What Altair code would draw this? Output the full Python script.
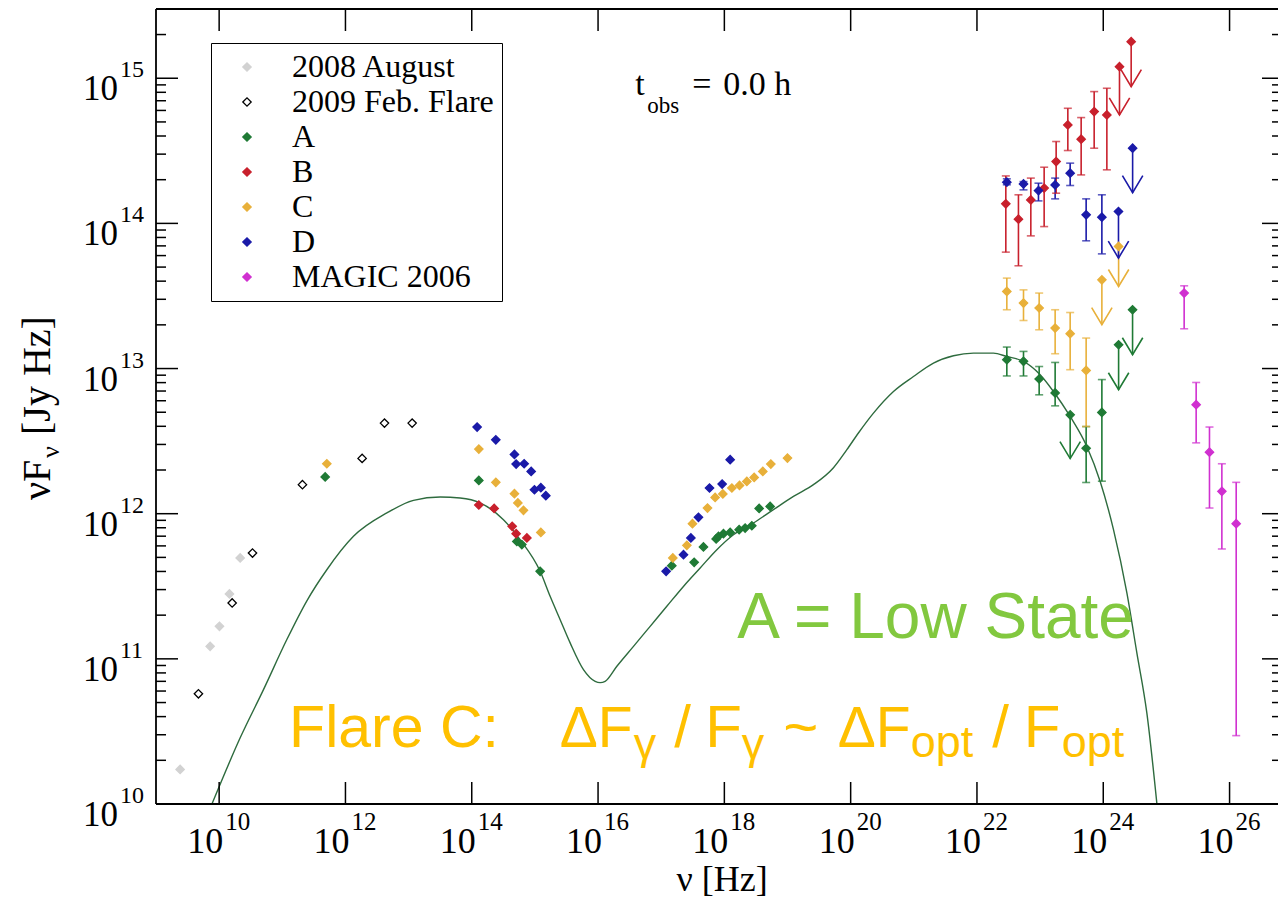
import altair as alt
import numpy as np
import pandas as pd

W, H = 1122, 795

# ---------------- data (log10 values) ----------------
SERIES = ["2008 August", "2009 Feb. Flare", "A", "B", "C", "D", "MAGIC 2006"]
STROKES = ["#d2d2d2", "#000000", "#1f7a35", "#c8202c", "#e8b03a", "#1a1aa8", "#d030d0"]
FILLS = ["#d2d2d2", "#ffffff", "#1f7a35", "#c8202c", "#e8b03a", "#1a1aa8", "#d030d0"]

MODEL_LOGNU = [9.889, 10.333, 10.702, 11.072, 11.389, 11.705, 12.127, 12.656, 13.077, 13.500,
               13.816, 14.133, 14.502, 14.766, 15.083, 15.241, 15.400, 15.558, 15.769, 15.954,
               16.033, 16.112, 16.298, 16.561, 16.825, 17.089, 17.352, 17.617, 17.881, 18.144,
               18.461, 18.777, 19.094, 19.411, 19.728, 19.940, 20.123, 20.361, 20.678, 20.994,
               21.311, 21.628, 21.944, 22.261, 22.473, 22.737, 23.001, 23.211, 23.476, 23.740,
               23.951, 24.162, 24.374, 24.532, 24.690, 24.849]
MODEL_LOGF = [10.003, 10.456, 10.788, 11.133, 11.400, 11.614, 11.844, 12.005, 12.092, 12.115,
              12.108, 12.074, 11.959, 11.821, 11.603, 11.431, 11.270, 11.110, 10.926, 10.845,
              10.836, 10.845, 10.949, 11.086, 11.224, 11.362, 11.499, 11.626, 11.752, 11.855,
              11.936, 12.028, 12.119, 12.200, 12.317, 12.441, 12.556, 12.693, 12.842, 12.945,
              13.038, 13.088, 13.106, 13.106, 13.083, 13.049, 12.957, 12.842, 12.670, 12.463,
              12.222, 11.890, 11.454, 11.041, 10.628, 10.003]

AUG08_LOGNU = [9.382, 9.857, 10.005, 10.163, 10.333]
AUG08_LOGF = [10.238, 11.086, 11.224, 11.447, 11.695]

FEB09_LOGNU = [9.672, 10.206, 10.528, 11.319, 12.264, 12.618, 13.056]
FEB09_LOGF = [10.759, 11.385, 11.729, 12.200, 12.381, 12.624, 12.624]

A_LOGNU = [11.679, 14.112, 14.714, 14.793, 15.083, 17.168, 17.522, 17.669, 17.870, 17.907,
           17.986, 18.092, 18.234, 18.329, 18.435, 18.551, 18.725]
A_LOGF = [12.253, 12.229, 11.809, 11.787, 11.603, 11.642, 11.665, 11.771, 11.826, 11.844,
          11.862, 11.871, 11.890, 11.901, 11.917, 12.036, 12.050]
A_G_LOGNU = [22.473, 22.737, 22.985, 23.238, 23.729, 23.978]
A_G_LOGF = [13.061, 13.050, 12.928, 12.832, 12.451, 12.698]
A_G_HI = [13.148, 13.118, 13.014, 13.042, 12.600, 12.924]
A_G_LO = [12.949, 12.949, 12.819, 12.743, 12.215, 12.224]
A_UL_LOGNU = [23.476, 24.243, 24.464]
A_UL_LOGF = [12.681, 13.164, 13.405]
A_UL_TIP = [12.380, 12.854, 13.095]

B_LOGNU = [14.112, 14.355, 14.640, 14.703, 14.873]
B_LOGF = [12.060, 12.036, 11.913, 11.862, 11.833]
B_G_LOGNU = [22.457, 22.657, 22.853, 23.064, 23.254, 23.439, 23.650, 23.856, 24.057]
B_G_LOGF = [14.135, 14.029, 14.162, 14.243, 14.426, 14.678, 14.580, 14.770, 14.747]
B_G_HI = [14.327, 14.197, 14.312, 14.387, 14.564, 14.793, 14.729, 14.908, 14.931]
B_G_LO = [13.802, 13.708, 13.914, 13.978, 14.208, 14.502, 14.334, 14.518, 14.369]
B_UL_LOGNU = [24.257, 24.442]
B_UL_LOGF = [15.080, 15.252]
B_UL_TIP = [14.747, 14.942]

C_LOGNU = [11.705, 14.112, 14.381, 14.676, 14.730, 14.819, 15.094, 17.184, 17.406, 17.495,
           17.733, 17.854, 17.976, 18.119, 18.240, 18.356, 18.472, 18.609, 18.736, 18.999]
C_LOGF = [12.344, 12.445, 12.216, 12.138, 12.074, 12.023, 11.871, 11.695, 11.782, 11.931,
          12.039, 12.112, 12.136, 12.177, 12.195, 12.222, 12.250, 12.291, 12.342, 12.383]
C_G_LOGNU = [22.473, 22.737, 22.985, 23.238, 23.476, 23.729]
C_G_LOGF = [13.531, 13.451, 13.417, 13.279, 13.240, 12.987]
C_G_HI = [13.623, 13.542, 13.520, 13.405, 13.386, 13.210]
C_G_LO = [13.405, 13.331, 13.267, 13.102, 12.992, 12.601]
C_UL_LOGNU = [23.978, 24.243]
C_UL_LOGF = [13.611, 13.841]
C_UL_TIP = [13.302, 13.565]

D_LOGNU = [14.085, 14.381, 14.676, 14.703, 14.830, 14.941, 14.993, 15.094, 15.173, 17.078,
           17.353, 17.470, 17.590, 17.765, 17.965, 18.092]
D_LOGF = [12.597, 12.509, 12.408, 12.342, 12.344, 12.291, 12.165, 12.179, 12.124, 11.603,
          11.718, 11.833, 11.975, 12.177, 12.204, 12.372]
D_G_LOGNU = [22.473, 22.737, 22.974, 23.238, 23.476, 23.729, 23.978]
D_G_LOGF = [14.284, 14.272, 14.226, 14.265, 14.346, 14.059, 14.043]
D_G_HI = [14.307, 14.288, 14.277, 14.312, 14.415, 14.169, 14.197]
D_G_LO = [14.266, 14.231, 14.155, 14.169, 14.261, 13.880, 13.790]
D_UL_LOGNU = [24.241, 24.465]
D_UL_LOGF = [14.082, 14.518]
D_UL_TIP = [13.761, 14.212]

M_LOGNU = [25.281, 25.471, 25.682, 25.878, 26.105]
M_LOGF = [13.520, 12.751, 12.424, 12.154, 11.931]
M_HI = [13.570, 12.904, 12.597, 12.344, 12.216]
M_LO = [13.274, 12.488, 12.039, 11.757, 10.471]

X_MAJOR_EXP = [10, 12, 14, 16, 18, 20, 22, 24, 26]
Y_MAJOR_EXP = [10, 11, 12, 13, 14, 15]

# ---------------- tables ----------------
COL = dict(zip(SERIES, STROKES))
X_DOMAIN = [1e9, 10 ** 26.767]
Y_DOMAIN = [1e10, 10 ** 15.477]


def pts(name, lognu, logf):
    return pd.DataFrame({"series": name, "nu": 10 ** np.array(lognu, float),
                         "F": 10 ** np.array(logf, float)})


def errs(name, lognu, hi, lo):
    return pd.DataFrame({"col": COL[name], "nu": 10 ** np.array(lognu, float),
                         "hi": 10 ** np.array(hi, float), "lo": 10 ** np.array(lo, float)})


def uls(name, lognu, logf, tip):
    return pd.DataFrame({"col": COL[name], "nu": 10 ** np.array(lognu, float),
                         "F": 10 ** np.array(logf, float), "tip": 10 ** np.array(tip, float)})


points = pd.concat([
    pts("2008 August", AUG08_LOGNU, AUG08_LOGF),
    pts("2009 Feb. Flare", FEB09_LOGNU, FEB09_LOGF),
    pts("A", A_LOGNU, A_LOGF), pts("A", A_G_LOGNU, A_G_LOGF), pts("A", A_UL_LOGNU, A_UL_LOGF),
    pts("B", B_LOGNU, B_LOGF), pts("B", B_G_LOGNU, B_G_LOGF), pts("B", B_UL_LOGNU, B_UL_LOGF),
    pts("C", C_LOGNU, C_LOGF), pts("C", C_G_LOGNU, C_G_LOGF), pts("C", C_UL_LOGNU, C_UL_LOGF),
    pts("D", D_LOGNU, D_LOGF), pts("D", D_G_LOGNU, D_G_LOGF), pts("D", D_UL_LOGNU, D_UL_LOGF),
    pts("MAGIC 2006", M_LOGNU, M_LOGF),
], ignore_index=True)

errors = pd.concat([
    errs("A", A_G_LOGNU, A_G_HI, A_G_LO), errs("B", B_G_LOGNU, B_G_HI, B_G_LO),
    errs("C", C_G_LOGNU, C_G_HI, C_G_LO), errs("D", D_G_LOGNU, D_G_HI, D_G_LO),
    errs("MAGIC 2006", M_LOGNU, M_HI, M_LO),
], ignore_index=True)

limits = pd.concat([
    uls("A", A_UL_LOGNU, A_UL_LOGF, A_UL_TIP), uls("B", B_UL_LOGNU, B_UL_LOGF, B_UL_TIP),
    uls("C", C_UL_LOGNU, C_UL_LOGF, C_UL_TIP), uls("D", D_UL_LOGNU, D_UL_LOGF, D_UL_TIP),
], ignore_index=True)

model = pd.DataFrame({"nu": 10 ** np.array(MODEL_LOGNU), "F": 10 ** np.array(MODEL_LOGF)})

xmaj = pd.DataFrame({"val": [10.0 ** e for e in X_MAJOR_EXP], "base": "10",
                     "exp": [str(e) for e in X_MAJOR_EXP]})
ymaj = pd.DataFrame({"val": [10.0 ** e for e in Y_MAJOR_EXP], "base": "10",
                     "exp": [str(e) for e in Y_MAJOR_EXP]})
ymin = pd.DataFrame({"val": [k * 10.0 ** e for e in Y_MAJOR_EXP for k in range(2, 10)
                             if k * 10.0 ** e < Y_DOMAIN[1]]})
one = pd.DataFrame({"k": [0]})

XS = alt.Scale(type="log", domain=X_DOMAIN, nice=False)
YS = alt.Scale(type="log", domain=Y_DOMAIN, nice=False)


def X(f):
    return alt.X(f"{f}:Q", scale=XS, axis=None)


def Y(f):
    return alt.Y(f"{f}:Q", scale=YS, axis=None)


SERIF = "Liberation Serif"
SANS = "Liberation Sans"

# ---------------- layers ----------------
line = alt.Chart(model).mark_line(color="#2e6b3e", strokeWidth=1.4, clip=True,
                                  interpolate="monotone").encode(x=X("nu"), y=Y("F"))

ebar = alt.Chart(errors).mark_rule(strokeWidth=1.6).encode(
    x=X("nu"), y=Y("lo"), y2="hi:Q", stroke=alt.Stroke("col:N", scale=None))
cap_hi = alt.Chart(errors).mark_tick(orient="horizontal", size=8, thickness=1.6).encode(
    x=X("nu"), y=Y("hi"), color=alt.Color("col:N", scale=None))
cap_lo = alt.Chart(errors).mark_tick(orient="horizontal", size=8, thickness=1.6).encode(
    x=X("nu"), y=Y("lo"), color=alt.Color("col:N", scale=None))

ul_rule = alt.Chart(limits).mark_rule(strokeWidth=1.6).encode(
    x=X("nu"), y=Y("F"), y2="tip:Q", stroke=alt.Stroke("col:N", scale=None))
ul_head = alt.Chart(limits).mark_point(shape="M -0.6 -1 L 0 0 L 0.6 -1", size=1156,
                                       filled=False, strokeWidth=1.6, opacity=1).encode(
    x=X("nu"), y=Y("tip"), stroke=alt.Stroke("col:N", scale=None))

leg = alt.Legend(title=None, orient="none", legendX=55, legendY=34, symbolType="diamond",
                 fillColor="white", strokeColor="black", padding=8, cornerRadius=0,
                 labelFont=SERIF, labelFontSize=32, labelColor="black", labelLimit=500,
                 symbolSize=70, symbolStrokeWidth=1.3, symbolOffset=12, labelOffset=29,
                 rowPadding=3)
scatter = alt.Chart(points).mark_point(shape="diamond", size=70, strokeWidth=1.3,
                                       opacity=1).encode(
    x=X("nu"), y=Y("F"),
    fill=alt.Fill("series:N", scale=alt.Scale(domain=SERIES, range=FILLS), legend=leg),
    stroke=alt.Stroke("series:N", scale=alt.Scale(domain=SERIES, range=STROKES), legend=leg),
)

# frame (the right edge lies just outside the picture in the reference) and inward ticks
fr = dict(color="black", strokeWidth=1.8)
frame = [
    alt.Chart(one).mark_rule(**fr).encode(x=alt.value(0), y=alt.value(0), y2=alt.value(H)),
    alt.Chart(one).mark_rule(**fr).encode(x=alt.value(0), x2=alt.value(W), y=alt.value(0)),
    alt.Chart(one).mark_rule(**fr).encode(x=alt.value(0), x2=alt.value(W), y=alt.value(H)),
]
tk = dict(color="black", strokeWidth=1.5)
ticks = [
    alt.Chart(ymaj).mark_rule(**tk).encode(y=Y("val"), x=alt.value(0), x2=alt.value(22)),
    alt.Chart(ymin).mark_rule(**tk).encode(y=Y("val"), x=alt.value(0), x2=alt.value(10)),
    alt.Chart(ymaj).mark_rule(**tk).encode(y=Y("val"), x=alt.value(W), x2=alt.value(W - 16)),
    alt.Chart(ymin).mark_rule(**tk).encode(y=Y("val"), x=alt.value(W), x2=alt.value(W - 6)),
    alt.Chart(xmaj).mark_rule(**tk).encode(x=X("val"), y=alt.value(H), y2=alt.value(H - 22)),
    alt.Chart(xmaj).mark_rule(**tk).encode(x=X("val"), y=alt.value(0), y2=alt.value(22)),
]

# tick labels with superscripts
labels = [
    alt.Chart(ymaj).mark_text(font=SERIF, fontSize=35, align="right", baseline="alphabetic",
                              dy=22, color="black").encode(y=Y("val"), x=alt.value(-38), text="base:N"),
    alt.Chart(ymaj).mark_text(font=SERIF, fontSize=24, align="left", baseline="alphabetic",
                              dy=-1, color="black").encode(y=Y("val"), x=alt.value(-36), text="exp:N"),
    alt.Chart(xmaj).mark_text(font=SERIF, fontSize=36, align="right", baseline="alphabetic",
                              dx=4, color="black").encode(x=X("val"), y=alt.value(H + 49), text="base:N"),
    alt.Chart(xmaj).mark_text(font=SERIF, fontSize=25, align="left", baseline="alphabetic",
                              dx=6, color="black").encode(x=X("val"), y=alt.value(H + 26), text="exp:N"),
]

# axis titles
titles = [
    alt.Chart(pd.DataFrame({"t": ["ν [Hz]"]})).mark_text(
        font=SERIF, fontSize=36, align="center", baseline="alphabetic", color="black").encode(
        x=alt.value(566), y=alt.value(H + 87), text="t:N"),
    alt.Chart(pd.DataFrame({"t": ["νF"]})).mark_text(
        font=SERIF, fontSize=40, align="left", baseline="alphabetic", angle=270, color="black").encode(
        x=alt.value(-106), y=alt.value(491), text="t:N"),
    alt.Chart(pd.DataFrame({"t": ["ν"]})).mark_text(
        font=SERIF, fontSize=26, align="left", baseline="alphabetic", angle=270, color="black").encode(
        x=alt.value(-97), y=alt.value(449), text="t:N"),
    alt.Chart(pd.DataFrame({"t": ["[Jy Hz]"]})).mark_text(
        font=SERIF, fontSize=40, align="left", baseline="alphabetic", angle=270, color="black").encode(
        x=alt.value(-106), y=alt.value(426), text="t:N"),
]

# annotations (positions in data coordinates: log10 nu, log10 F)
tobs = pd.DataFrame({"t": ["t", "obs", "=", "0.0 h"], "lx": [16.588, 16.778, 17.490, 17.981],
                     "ly": [14.885, 14.761, 14.885, 14.885], "fs": [34, 23, 34, 34]})
tobs["nu"] = 10 ** tobs["lx"]
tobs["F"] = 10 ** tobs["ly"]
t_layer = alt.Chart(tobs).mark_text(font=SERIF, align="left", baseline="alphabetic",
                                    color="black").encode(
    x=X("nu"), y=Y("F"), text="t:N", size=alt.Size("fs:Q", scale=None))

lowstate = pd.DataFrame({"t": ["A = Low State"], "nu": [10 ** 18.203], "F": [10 ** 11.146]})
low_layer = alt.Chart(lowstate).mark_text(font=SANS, fontSize=64, align="left",
                                          baseline="alphabetic", color="#82c83f").encode(
    x=X("nu"), y=Y("F"), text="t:N")

flare = pd.DataFrame({
    "t": ["Flare C:", "ΔF", "γ", "/", "F", "γ", "~", "ΔF", "opt", "/", "F", "opt"],
    "lx": [11.108, 15.392, 16.564, 17.205, 17.696, 18.274, 18.931, 19.794, 20.952, 22.241,
           22.740, 23.341],
    "ly": [10.396, 10.396, 10.310, 10.396, 10.396, 10.310, 10.396, 10.396, 10.327, 10.396,
           10.396, 10.327],
    "fs": [59, 57, 45, 60, 60, 45, 60, 57, 45, 60, 60, 45],
})
flare["nu"] = 10 ** flare["lx"]
flare["F"] = 10 ** flare["ly"]
flare_layer = alt.Chart(flare).mark_text(font=SANS, align="left", baseline="alphabetic",
                                         color="#ffc000").encode(
    x=X("nu"), y=Y("F"), text="t:N", size=alt.Size("fs:Q", scale=None))

chart = alt.layer(
    line, ebar, cap_hi, cap_lo, ul_rule, ul_head, scatter, *frame, *ticks, *labels, *titles,
    t_layer, low_layer, flare_layer,
).properties(
    width=W, height=H,
    autosize=alt.AutoSizeParams(type="none"),
    padding={"left": 148, "top": 1, "right": 0, "bottom": 94},
    background="white",
).configure_view(stroke="transparent")

chart.save("out.html", embed_options={"renderer": "svg", "actions": False})
